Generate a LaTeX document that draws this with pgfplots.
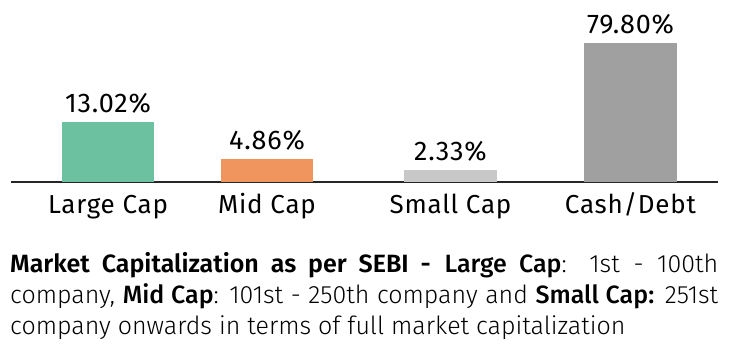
\documentclass[border=0pt]{standalone}
\usepackage{pgfplots}
\pgfplotsset{compat=1.18}
\usepackage{fontspec}
\setmainfont{Fira Sans}
\newfontfamily\chartfont{Fira Sans}[LetterSpace=3]
\newfontfamily\valfont{Fira Sans}[LetterSpace=3]
\newfontfamily\notefont{Fira Sans}[UprightFont=* Light, BoldFont=* SemiBold]
\newfontfamily\notemed{Fira Sans}[UprightFont=* Medium]
\definecolor{cgreen}{RGB}{108,193,160}
\definecolor{corange}{RGB}{240,149,94}
\definecolor{clgray}{RGB}{200,200,200}
\definecolor{cgray}{RGB}{160,160,160}
\begin{document}
\begin{tikzpicture}[x=1pt,y=1pt]
\path[use as bounding box] (0,0) rectangle (729,357);
\begin{axis}[
  at={(11pt,175pt)}, anchor=south west,
  scale only axis, width=707pt, height=182pt,
  xmin=11, xmax=718, ymin=0, ymax=182,
  clip=false,
  axis y line=none, axis x line*=bottom,
  axis line style={black!85, line width=1.5pt, -},
  xtick={108,267,450.5,630.5},
  xticklabels={Large Cap,Mid Cap,Small Cap,Cash/Debt},
  major tick length=0pt,
  xticklabel style={font=\chartfont\fontsize{26}{28}\selectfont, anchor=base, yshift=-31pt},
  ytick=\empty,
  ybar, bar width=92.5, /pgf/bar shift=0pt,
  point meta=explicit symbolic,
  nodes near coords,
  nodes near coords style={font=\valfont\fontsize{27}{30}\selectfont, anchor=base, yshift=10pt, black},
]
\addplot[fill=cgreen, draw=none] coordinates {(108,60) [13.02\%]};
\addplot[fill=corange, draw=none] coordinates {(267,23) [4.86\%]};
\addplot[fill=clgray, draw=none] coordinates {(450.5,12) [2.33\%]};
\addplot[fill=cgray, draw=none] coordinates {(630.5,139) [79.80\%]};
\end{axis}
\node[anchor=north west, inner sep=0, text width=708pt, align=justify,
  font=\notefont\fontsize{25}{31}\selectfont] at (10,104.5)
  {\textbf{Market Capitalization as per SEBI -} {\notemed Large Cap}: 1st - 100th\linebreak
   company, {\notemed Mid Cap}: 101st - 250th company and {\notemed Small Cap:} 251st\linebreak
   company onwards in terms of full market capitalization};
\end{tikzpicture}
\end{document}
